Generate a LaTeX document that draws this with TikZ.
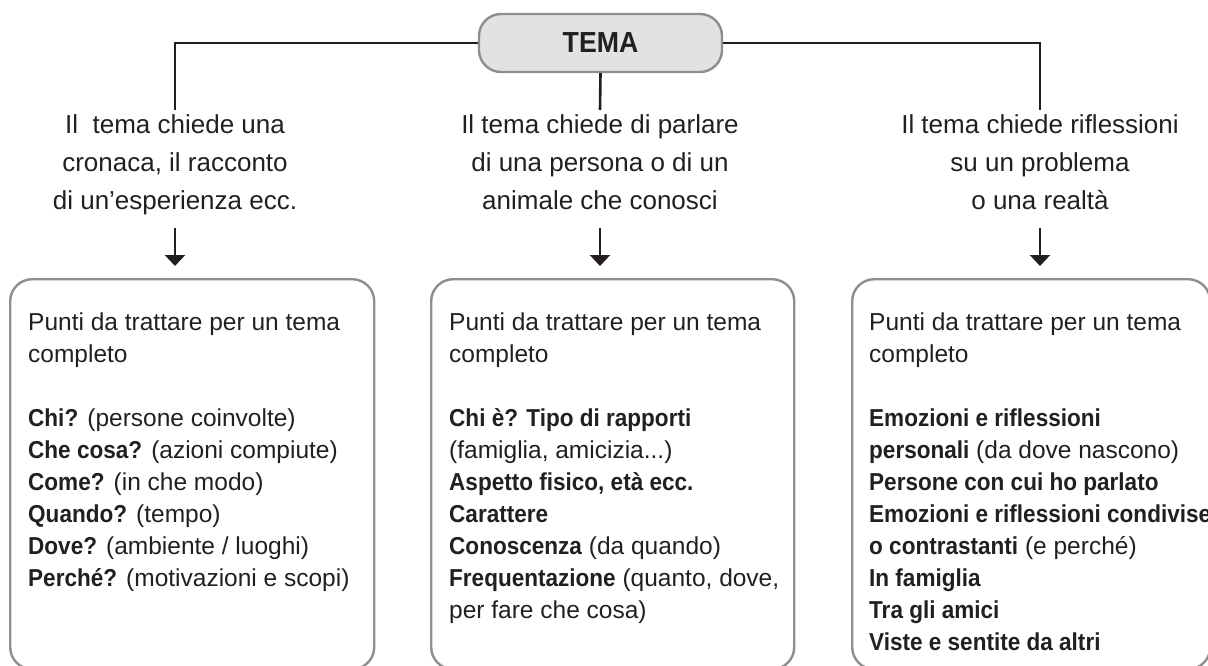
\documentclass[tikz,border=0pt]{standalone}
\usepackage{fontspec}
\setmainfont{Liberation Sans}[BoldFeatures={FakeStretch=0.92}]
\usetikzlibrary{arrows.meta}
\definecolor{ink}{HTML}{231F20}
\definecolor{frame}{HTML}{8D8E90}
\definecolor{temafill}{HTML}{E1E2E4}
\begin{document}
\begin{tikzpicture}[x=1pt,y=-1pt,
  conn/.style={draw=ink, line width=2.6pt},
  arr/.style={conn, -{Triangle[width=20pt,length=11pt]}},
  panel/.style={draw=frame, line width=2.4pt, rounded corners=22pt, minimum height=390pt, anchor=north west, inner sep=0pt},
  head/.style={align=center, anchor=north, inner sep=0pt, text=ink, font=\fontsize{26}{38}\selectfont},
  body/.style={align=left, anchor=north west, inner sep=0pt, text=ink, font=\fontsize{24.5}{32}\selectfont},
  temabox/.style={draw=frame, fill=temafill, line width=2.4pt, rounded corners=22pt, minimum width=243pt, minimum height=58pt, inner sep=0pt, text=ink, font=\fontsize{29}{34}\selectfont\bfseries}]
\useasboundingbox (0,0) rectangle (1208,666);

% boxes
\node[panel, minimum width=364pt] (b1) at (9,278) {};
\node[panel, minimum width=363pt] (b2) at (430,278) {};
\node[panel, minimum width=358pt] (b3) at (851,278) {};

% top node
\node[temabox] (tema) at (600.5,43) {TEMA};

% headers
\node[head] (h1) at (175,114) {Il~ tema chiede una\\cronaca, il racconto\\di un’esperienza ecc.};
\node[head] (h2) at (600,114) {Il tema chiede di parlare\\di una persona o di un\\animale che conosci};
\node[head] (h3) at (1040,114) {Il tema chiede riflessioni\\su un problema\\o una realtà};

% connectors
\draw[conn] (tema.west) -| ([yshift=4pt]h1.north);
\draw[conn] (tema.east) -| ([yshift=4pt]h3.north);
\draw[conn] (tema.south) -- ([yshift=4pt]h2.north);

\coordinate (lvl) at (0,228);
\draw[arr, shorten >=12pt] (h1.south |- lvl) -- (h1.south |- b1.north);
\draw[arr, shorten >=12pt] (h2.south |- lvl) -- (h2.south |- b2.north);
\draw[arr, shorten >=12pt] (h3.south |- lvl) -- (h3.south |- b3.north);

% box texts
\node[body] (t1) at (28,312.5) {Punti da trattare per un tema\\completo\\[32pt]
\textbf{Chi?} (persone coinvolte)\\
\textbf{Che cosa?} (azioni compiute)\\
\textbf{Come?} (in che modo)\\
\textbf{Quando?} (tempo)\\
\textbf{Dove?} (ambiente / luoghi)\\
\textbf{Perché?} (motivazioni e scopi)};

\node[body] (t2) at (449,312.5) {Punti da trattare per un tema\\completo\\[32pt]
\textbf{Chi è? Tipo di rapporti}\\
(famiglia, amicizia...)\\
\textbf{Aspetto fisico, età ecc.}\\
\textbf{Carattere}\\
\textbf{Conoscenza} (da quando)\\
\textbf{Frequentazione} (quanto, dove,\\
per fare che cosa)};

\node[body] (t3) at (869,312.5) {Punti da trattare per un tema\\completo\\[32pt]
\textbf{Emozioni e riflessioni}\\
\textbf{personali} (da dove nascono)\\
\textbf{Persone con cui ho parlato}\\
\textbf{Emozioni e riflessioni condivise}\\
\textbf{o contrastanti} (e perché)\\
\textbf{In famiglia}\\
\textbf{Tra gli amici}\\
\textbf{Viste e sentite da altri}};
\end{tikzpicture}
\end{document}
